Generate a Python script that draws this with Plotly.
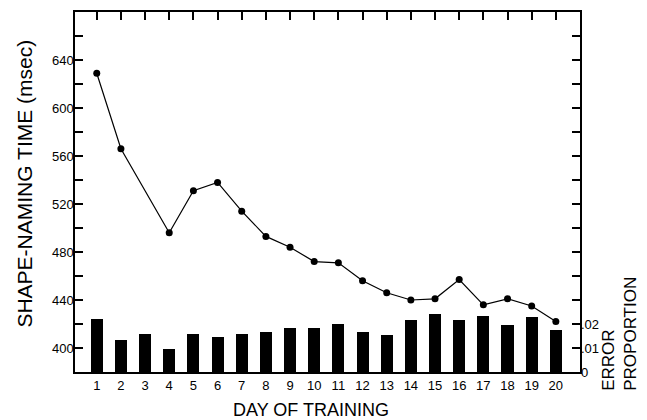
import plotly.graph_objects as go

days = list(range(1, 21))
naming_time = [629, 566, None, 496, 531, 538, 514, 493, 484, 472, 471, 456, 446,
               440, 441, 457, 436, 441, 435, 422]
error_prop = [0.022, 0.0135, 0.0158, 0.0095, 0.0158, 0.0145, 0.0158, 0.0168, 0.0182,
              0.0185, 0.0198, 0.0168, 0.0155, 0.0215, 0.024, 0.0218, 0.0232, 0.0195,
              0.0228, 0.0175]

left_tickvals = list(range(380, 681, 20))
left_ticktext = [str(v) if v in (400, 440, 480, 520, 560, 600, 640) else "" for v in left_tickvals]
right_tickvals = [i / 100 for i in range(0, 16)]
right_ticktext = ["0", ".01", ".02"] + [""] * 13
x_ticktext = [str(d) for d in days]

FONT = "Liberation Sans, Arial, sans-serif"

fig = go.Figure()
fig.add_trace(go.Bar(x=days, y=error_prop, width=0.5, marker=dict(color="black", line=dict(width=0)),
                     yaxis="y2", xaxis="x", showlegend=False))
fig.add_trace(go.Scatter(x=days, y=naming_time, mode="lines+markers", connectgaps=True,
                         line=dict(color="black", width=1.2),
                         marker=dict(color="black", size=7, symbol="circle"),
                         xaxis="x", yaxis="y", showlegend=False))

fig.update_layout(
    template="none",
    width=647, height=420,
    margin=dict(l=75, r=67, t=12, b=48, pad=0),
    paper_bgcolor="white", plot_bgcolor="white",
    font=dict(family=FONT, color="black", size=13),
    xaxis=dict(range=[0.1, 21.0], tickvals=days, ticktext=x_ticktext,
               ticks="inside", ticklen=8, tickwidth=1.5, tickcolor="black",
               showline=True, linecolor="black", linewidth=1.5, mirror="ticks",
               showgrid=False, zeroline=False, tickfont=dict(size=13),
               ticklabelstandoff=1, automargin=False),
    yaxis=dict(range=[380, 680], tickvals=left_tickvals, ticktext=left_ticktext,
               ticks="inside", ticklen=8, tickwidth=1.5, tickcolor="black",
               showline=True, linecolor="black", linewidth=1.5, mirror=True,
               showgrid=False, zeroline=False, tickfont=dict(size=13),
               ticklabelstandoff=-3, automargin=False),
    yaxis2=dict(range=[0, 0.15], overlaying="y", side="right", tickvals=right_tickvals,
                ticktext=right_ticktext, ticks="inside", ticklen=8, tickwidth=1.5,
                tickcolor="black", showgrid=False, zeroline=False, showline=False,
                tickfont=dict(size=13), automargin=False),
    bargap=0,
    annotations=[
        dict(text="SHAPE-NAMING TIME (msec)", xref="paper", yref="paper",
             x=-0.1, y=0.522, textangle=-90, showarrow=False,
             font=dict(size=21, family=FONT), xanchor="center", yanchor="middle"),
        dict(text="DAY OF TRAINING", xref="paper", yref="paper",
             x=0.467, y=-0.105, showarrow=False, font=dict(size=18, family=FONT),
             xanchor="center", yanchor="middle"),
        dict(text="ERROR<br>PROPORTION", xref="paper", yref="paper",
             x=1.079, y=-0.058, textangle=-90, showarrow=False, align="left",
             font=dict(size=17, family=FONT), xanchor="center", yanchor="bottom"),
    ],
)

fig.write_html("out.html", config={"displayModeBar": False},
               post_script="document.body.style.margin='0px';")
